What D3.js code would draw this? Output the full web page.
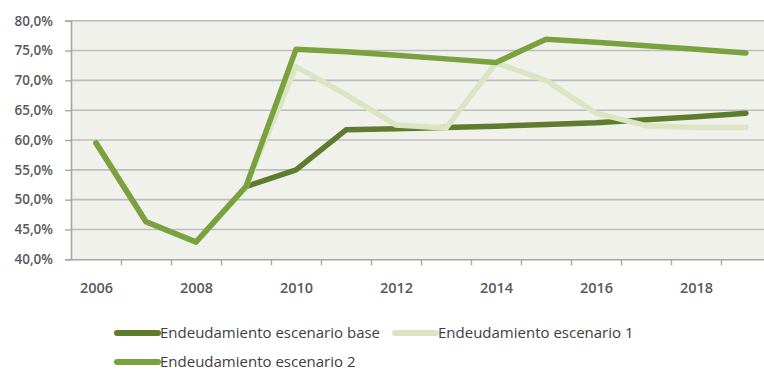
<!DOCTYPE html>
<html>
<head>
<meta charset="utf-8">
<script src="https://cdn.jsdelivr.net/npm/d3@7"></script>
<style>
  html, body { margin: 0; padding: 0; background: #ffffff; }
  svg { display: block; }
</style>
</head>
<body>
<svg id="chart" width="764" height="372"></svg>
<script>
// Debt ratio projections by scenario (share of GDP)
const years = [2006, 2007, 2008, 2009, 2010, 2011, 2012, 2013, 2014, 2015, 2016, 2017, 2018, 2019];
const base = [59.5, 46.3, 42.9, 52.2, 55.0, 61.7, 61.9, 62.1, 62.3, 62.6, 62.9, 63.4, 63.9, 64.5];
const esc1 = [59.5, 46.3, 42.9, 52.2, 72.3, 67.6, 62.5, 62.0, 72.9, 70.0, 64.5, 62.4, 62.1, 62.1];
const esc2 = [59.5, 46.3, 42.9, 52.2, 75.2, 74.8, 74.2, 73.6, 73.0, 76.9, 76.4, 75.8, 75.2, 74.6];
const seriesNames = ["Endeudamiento escenario base", "Endeudamiento escenario 1", "Endeudamiento escenario 2"];
const yTicks = [40, 45, 50, 55, 60, 65, 70, 75, 80];
const xLabels = [2006, 2008, 2010, 2012, 2014, 2016, 2018];

const colors = ["#5e7c2e", "#dbe5c3", "#79a13d"];
const series = [base, esc1, esc2];

const svg = d3.select("#chart");
const plot = { left: 71, right: 771, top: 20.7, bottom: 259.3 };

const x = d3.scaleLinear().domain([years[0] - 0.5, years[years.length - 1] + 0.5]).range([plot.left, plot.right]);
const y = d3.scaleLinear().domain([40, 80]).range([plot.bottom, plot.top]);

const locale = d3.formatLocale({ decimal: ",", thousands: ".", grouping: [3], currency: ["", " €"] });
const pct = v => locale.format(".1f")(v) + "%";

// plot background
svg.append("rect")
  .attr("x", plot.left).attr("y", plot.top)
  .attr("width", plot.right - plot.left).attr("height", plot.bottom - plot.top)
  .attr("fill", "#f1f1ec");

// horizontal gridlines
svg.append("g").selectAll("line").data(yTicks.slice(1)).join("line")
  .attr("x1", plot.left).attr("x2", plot.right)
  .attr("y1", d => y(d)).attr("y2", d => y(d))
  .attr("stroke", "#bcbcbc").attr("stroke-width", 1.6);

// y axis
const yAxis = svg.append("g").attr("transform", `translate(${plot.left},0)`)
  .call(d3.axisLeft(y).tickValues(yTicks).tickFormat(pct).tickSize(6).tickPadding(12));
yAxis.select(".domain").attr("stroke", "#a6a6a6").attr("stroke-width", 1.6);
yAxis.selectAll(".tick line").attr("stroke", "#a6a6a6").attr("stroke-width", 1.4);
yAxis.selectAll(".tick text")
  .attr("fill", "#595959").attr("font-family", "Open Sans").attr("font-weight", 600).attr("font-size", 13.5);

// x axis: tick marks between categories
const boundaries = years.slice(0, -1).map(d => d + 0.5);
const xAxis = svg.append("g").attr("transform", `translate(0,${plot.bottom})`)
  .call(d3.axisBottom(x).tickValues(boundaries).tickFormat("").tickSize(6).tickSizeOuter(0));
xAxis.select(".domain").attr("stroke", "#a6a6a6").attr("stroke-width", 1.6);
xAxis.selectAll(".tick line").attr("stroke", "#a6a6a6").attr("stroke-width", 1.4);

// x axis labels centred on every other category
const xLab = svg.append("g").attr("transform", `translate(0,${plot.bottom})`)
  .call(d3.axisBottom(x).tickValues(xLabels).tickFormat(d3.format("d")).tickSize(0).tickPadding(23));
xLab.select(".domain").remove();
xLab.selectAll(".tick text")
  .attr("fill", "#595959").attr("font-family", "Open Sans").attr("font-weight", 600).attr("font-size", 14.5);

// series lines
const line = d3.line().x((d, i) => x(years[i])).y(d => y(d));
svg.append("g").selectAll("path").data(series).join("path")
  .attr("d", d => line(d))
  .attr("fill", "none")
  .attr("stroke", (d, i) => colors[i])
  .attr("stroke-width", 5.5)
  .attr("stroke-linejoin", "round")
  .attr("stroke-linecap", "round");

// legend
const legendPos = [[117, 333], [395, 333], [117, 362]];
const legend = svg.append("g").selectAll("g").data(seriesNames).join("g")
  .attr("transform", (d, i) => `translate(${legendPos[i][0]},${legendPos[i][1]})`);
legend.append("line")
  .attr("x1", 0).attr("x2", 41).attr("y1", 0).attr("y2", 0)
  .attr("stroke", (d, i) => colors[i]).attr("stroke-width", 6).attr("stroke-linecap", "round");
legend.append("text")
  .attr("x", 43).attr("y", 0).attr("dy", "0.35em")
  .attr("fill", "#404040").attr("font-family", "Open Sans").attr("font-size", 15)
  .text(d => d);
</script>
</body>
</html>
